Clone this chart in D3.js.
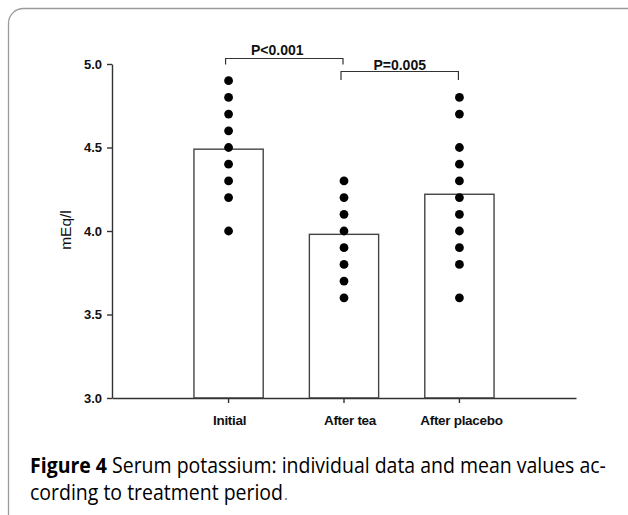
<!DOCTYPE html>
<html>
<head>
<meta charset="utf-8">
<script src="https://cdn.jsdelivr.net/npm/d3@7/dist/d3.min.js"></script>
<style>
  html, body { margin: 0; padding: 0; background: #fff; }
  svg { display: block; }
</style>
</head>
<body>
<svg id="chart" width="628" height="515"></svg>
<script>
// ---------- data ----------
const categories = ["Initial", "After tea", "After placebo"];
const means = [4.49, 3.98, 4.22];
const initialValues = [4.9, 4.8, 4.7, 4.6, 4.5, 4.4, 4.3, 4.2, 4.0];
const teaValues = [4.3, 4.2, 4.1, 4.0, 3.9, 3.8, 3.7, 3.6];
const placeboValues = [4.8, 4.7, 4.5, 4.4, 4.3, 4.2, 4.1, 4.0, 3.9, 3.8, 3.6];
const yTicks = [3.0, 3.5, 4.0, 4.5, 5.0];
const pLabels = ["P<0.001", "P=0.005"];
const pPairs = [[0, 1], [1, 2]];
const yLabel = "mEq/l";
const captionBold = "Figure 4";
const captionLine1 = " Serum potassium: individual data and mean values ac-";
const captionLine2 = "cording to treatment period";

// ---------- layout ----------
const svg = d3.select("#chart");
const axisColor = "#333";
const tickFont = "'Liberation Sans', Arial, sans-serif";

const y = d3.scaleLinear().domain([3, 5]).range([398, 64]);
const x = d3.scaleBand().domain(categories).range([112, 576])
  .paddingInner(0.4).paddingOuter(0.71);

// frame
svg.append("path")
  .attr("d", "M8.5,520 V23.5 A15,15 0 0 1 23.5,8.5 H628")
  .attr("fill", "none").attr("stroke", "#9a9a9a").attr("stroke-width", 1.3);

// bars
svg.append("g").selectAll("rect").data(categories).join("rect")
  .attr("x", d => x(d))
  .attr("width", x.bandwidth())
  .attr("y", (d, i) => y(means[i]))
  .attr("height", (d, i) => y(3) - y(means[i]))
  .attr("fill", "#fff").attr("stroke", "#444").attr("stroke-width", 1.4);

// dots
const groups = [initialValues, teaValues, placeboValues];
groups.forEach((vals, gi) => {
  svg.append("g").selectAll("circle").data(vals).join("circle")
    .attr("cx", x(categories[gi]) + x.bandwidth() / 2)
    .attr("cy", d => y(d))
    .attr("r", 4.4)
    .attr("fill", "#000");
});

// y axis
const yAxis = svg.append("g").attr("transform", "translate(112,0)")
  .call(d3.axisLeft(y).tickValues(yTicks).tickFormat(d3.format(".1f"))
    .tickSize(5).tickSizeOuter(0).tickPadding(5));
yAxis.selectAll("path, line").attr("stroke", axisColor).attr("stroke-width", 1.4);
yAxis.selectAll("text").attr("font-family", tickFont).attr("font-weight", "bold")
  .attr("font-size", 13).attr("fill", "#111");

// x axis
const xAxis = svg.append("g").attr("transform", "translate(0,398)")
  .call(d3.axisBottom(x).tickSize(5).tickSizeOuter(0).tickPadding(12));
xAxis.selectAll("path, line").attr("stroke", axisColor).attr("stroke-width", 1.4);
xAxis.selectAll("text").attr("font-family", tickFont).attr("font-weight", "bold")
  .attr("font-size", 13.5).attr("fill", "#111").attr("letter-spacing", -0.3);
xAxis.selectAll(".tick text").attr("dx", (d, i) => [1, 6, 2][i]);

// y label
svg.append("text")
  .attr("transform", "translate(71,230) rotate(-90)")
  .attr("text-anchor", "middle")
  .attr("font-family", tickFont).attr("font-size", 15.5).attr("fill", "#111")
  .text(yLabel);

// significance brackets
const bracketTop = [58.5, 71.5];
const bracketLeg = [6, 8.5];
const labelBaseline = [55, 70];
pPairs.forEach((pair, i) => {
  const x1 = x(categories[pair[0]]) + x.bandwidth() / 2 - 3;
  const x2 = x(categories[pair[1]]) + x.bandwidth() / 2 - 1;
  const t = bracketTop[i];
  svg.append("path")
    .attr("d", `M${x1},${t + bracketLeg[i]} V${t} H${x2} V${t + bracketLeg[i]}`)
    .attr("fill", "none").attr("stroke", "#333").attr("stroke-width", 1.2);
  svg.append("text")
    .attr("x", (x1 + x2) / 2 - (i === 0 ? 7 : 0))
    .attr("y", labelBaseline[i])
    .attr("text-anchor", "middle")
    .attr("font-family", tickFont).attr("font-weight", "bold")
    .attr("font-size", 14).attr("fill", "#111")
    .text(pLabels[i]);
});

// caption (horizontally condensed to mimic the narrow journal font)
const capFont = "'Open Sans', 'Noto Sans', sans-serif";
const capSize = 21;
const capG1 = svg.append("g");
const cap1 = capG1.append("text").attr("x", 0).attr("y", 0)
  .attr("font-family", capFont).attr("font-size", capSize).attr("fill", "#000");
cap1.append("tspan").attr("font-weight", "bold").text(captionBold);
cap1.append("tspan").text(captionLine1);
const w1 = cap1.node().getComputedTextLength();
const squeeze = 576 / w1;
capG1.attr("transform", `translate(30,473) scale(${squeeze},1)`);

const capG2 = svg.append("g").attr("transform", `translate(30,500) scale(${squeeze},1)`);
const cap2 = capG2.append("text").attr("x", 0).attr("y", 0)
  .attr("font-family", capFont).attr("font-size", capSize).attr("fill", "#000");
cap2.append("tspan").text(captionLine2);
cap2.append("tspan").attr("font-size", capSize * 0.75).attr("fill", "#666").attr("dx", 1).text(".");
</script>
</body>
</html>
